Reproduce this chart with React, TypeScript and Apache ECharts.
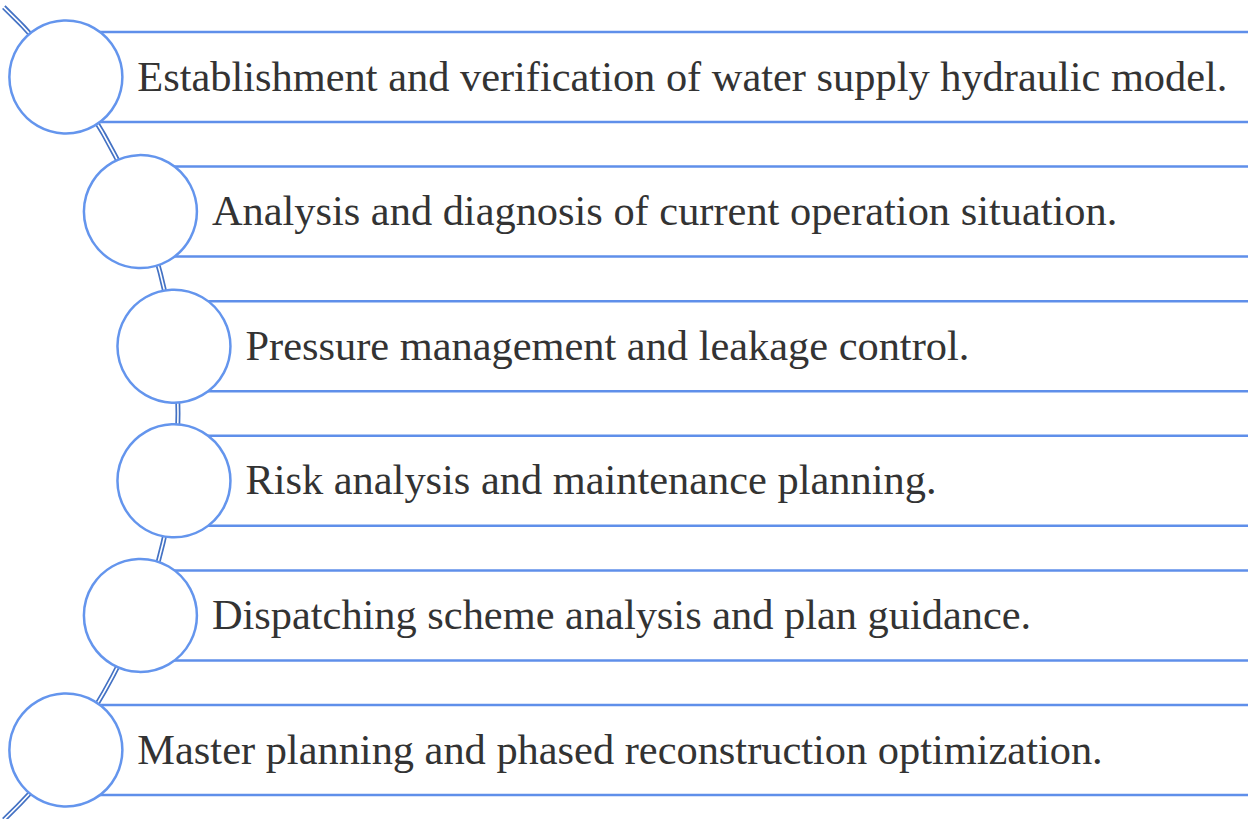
import React, { useEffect, useRef } from "react";
import * as echarts from "echarts";

const steps = [
  "Establishment and verification of water supply hydraulic model.",
  "Analysis and diagnosis of current operation situation.",
  "Pressure management and leakage control.",
  "Risk analysis and maintenance planning.",
  "Dispatching scheme analysis and plan guidance.",
  "Master planning and phased reconstruction optimization.",
];

const W = 1248;
const H = 819;
const ARC_CX = -383;
const ARC_CY = 413.5;
const ARC_R = 561;
const FIRST_Y = 77;
const STEP_Y = 134.6;
const CIRCLE_R = 56.5;
const BOX_HALF = 45;
const LINE_COLOR = "#5F8FEA";
const CIRCLE_COLOR = "#6495ED";
const ARC_COLOR = "#4472C4";

export default function App() {
  const ref = useRef<HTMLDivElement>(null);
  useEffect(() => {
    if (!ref.current) return;
    const chart = echarts.init(ref.current, null, { renderer: "svg" });
    const elements: any[] = [];
    elements.push({
      type: "arc",
      z: 1,
      shape: { cx: ARC_CX, cy: ARC_CY, r: ARC_R, startAngle: -0.81, endAngle: 0.81, clockwise: true },
      style: { stroke: ARC_COLOR, lineWidth: 5, fill: "none" },
    });
    elements.push({
      type: "arc",
      z: 2,
      shape: { cx: ARC_CX, cy: ARC_CY, r: ARC_R, startAngle: -0.82, endAngle: 0.82, clockwise: true },
      style: { stroke: "#ffffff", lineWidth: 1.6, fill: "none" },
    });
    steps.forEach((label, i) => {
      const cy = FIRST_Y + i * STEP_Y;
      const dy = cy - ARC_CY;
      const cx = ARC_CX + Math.sqrt(ARC_R * ARC_R - dy * dy);
      [cy - BOX_HALF, cy + BOX_HALF].forEach((ly) => {
        elements.push({
          type: "line",
          z: 3,
          shape: { x1: cx, y1: ly, x2: W + 5, y2: ly },
          style: { stroke: LINE_COLOR, lineWidth: 2.5 },
        });
      });
      elements.push({
        type: "circle",
        z: 4,
        shape: { cx, cy, r: CIRCLE_R },
        style: { fill: "#ffffff", stroke: CIRCLE_COLOR, lineWidth: 2.5 },
      });
      elements.push({
        type: "text",
        z: 5,
        style: {
          text: label,
          x: cx + CIRCLE_R + 15,
          y: cy - 1,
          fill: "#333333",
          fontFamily: "Liberation Serif",
          fontSize: 42.4,
          align: "left",
          verticalAlign: "middle",
        },
      });
    });
    chart.setOption({
      animation: false,
      backgroundColor: "#ffffff",
      graphic: { elements },
    });
    return () => chart.dispose();
  }, []);
  return (
    <div
      ref={ref}
      style={{ position: "absolute", left: 0, top: 0, width: W, height: H }}
    />
  );
}
